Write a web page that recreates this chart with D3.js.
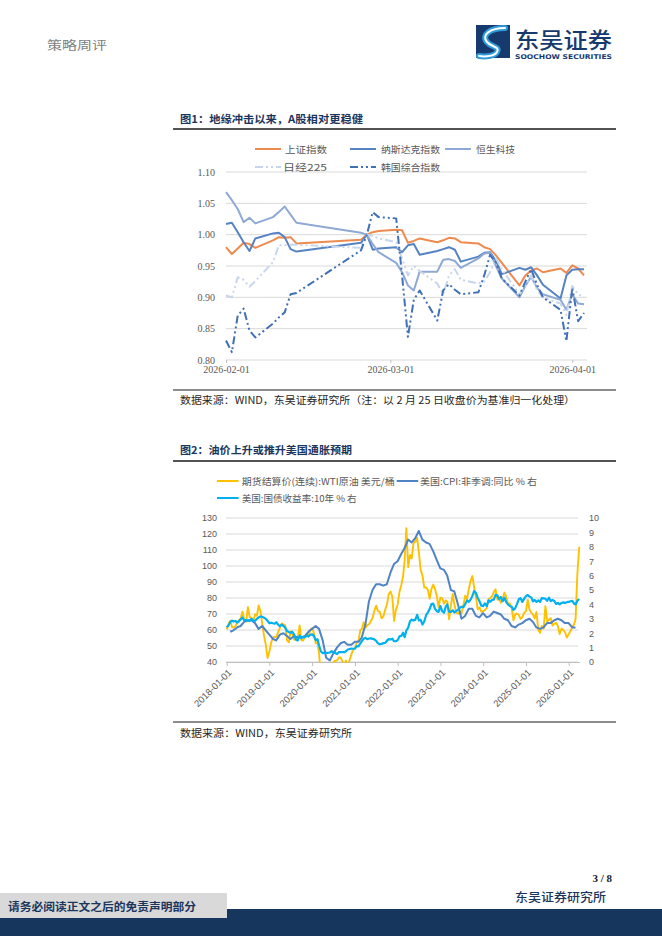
<!DOCTYPE html>
<html><head><meta charset="utf-8">
<script src="https://cdn.jsdelivr.net/npm/d3@7/dist/d3.min.js"></script>
<style>html,body{margin:0;padding:0;background:#fff}svg{display:block}</style>
</head><body>
<svg id="page" width="662" height="936"></svg>
<script>
// ================= DATA: Figure 1 (normalized to 2026-02-25 close) =================
const c1Dates = ["2026-02-01","2026-02-02","2026-02-03","2026-02-04","2026-02-05","2026-02-06",
  "2026-02-09","2026-02-10","2026-02-11","2026-02-12","2026-02-13","2026-02-24","2026-02-25",
  "2026-02-26","2026-02-27","2026-03-02","2026-03-03","2026-03-04","2026-03-05","2026-03-06",
  "2026-03-09","2026-03-10","2026-03-11","2026-03-12","2026-03-13","2026-03-16","2026-03-17",
  "2026-03-18","2026-03-19","2026-03-20","2026-03-23","2026-03-24","2026-03-25","2026-03-26",
  "2026-03-27","2026-03-30","2026-03-31","2026-04-01","2026-04-02","2026-04-03"];
const shanghai = [0.980,0.969,0.978,0.987,0.985,0.979,0.991,0.996,0.995,0.996,0.986,0.992,1.000,1.004,1.006,1.008,1.007,0.987,0.990,0.994,0.988,0.991,0.995,0.994,0.988,0.986,0.980,0.977,0.967,0.955,0.919,0.935,0.943,0.946,0.940,0.946,0.939,0.951,0.946,0.935];
const nasdaq   = [1.017,1.019,1.004,0.988,0.974,0.994,1.002,1.003,0.996,0.977,0.973,0.987,1.000,0.976,0.978,0.980,0.972,0.983,0.985,0.968,0.974,0.977,0.980,0.976,0.957,0.965,0.971,0.972,0.958,0.937,0.947,0.944,0.948,0.935,0.920,0.898,0.935,0.944,0.945,0.945];
const hstech   = [1.068,1.055,1.041,1.020,1.027,1.018,1.028,1.036,1.045,1.032,1.019,1.003,1.000,0.985,0.972,0.955,0.940,0.919,0.911,0.941,0.941,0.960,0.961,0.958,0.947,0.962,0.970,0.971,0.950,0.930,0.900,0.918,0.933,0.915,0.905,0.896,0.880,0.905,0.890,0.889];
const nikkei   = [0.903,0.900,0.932,0.928,0.917,0.926,0.956,0.983,0.983,0.984,0.984,0.979,1.000,0.998,0.994,0.988,0.962,0.935,0.950,0.942,0.922,0.905,0.935,0.945,0.928,0.922,0.925,0.940,0.962,0.945,0.905,0.918,0.935,0.912,0.900,0.890,0.872,0.918,0.905,0.900];
const kospi    = [0.831,0.8125,0.871,0.882,0.847,0.836,0.858,0.868,0.876,0.905,0.907,0.975,1.000,1.036,1.028,1.026,0.935,0.837,0.896,0.911,0.863,0.911,0.921,0.912,0.905,0.908,0.935,0.968,0.955,0.930,0.903,0.925,0.945,0.920,0.900,0.880,0.830,0.915,0.862,0.875];
const c1YTicks = [0.80,0.85,0.90,0.95,1.00,1.05,1.10];
const c1XTicks = ["2026-02-01","2026-03-01","2026-04-01"];
const c1Names = ["上证指数","纳斯达克指数","恒生科技","日经225","韩国综合指数"];

// ================= DATA: Figure 2 =================
// WTI continuous futures settlement (USD/bbl), sampled on the 1st and 16th of each month from 2018-01-01
const wti = [
 60.4,63.7,65.8,61.7,61.6,62.3,64.9,66.2,67.3,71.5,65.8,65.1,74.2,68.1,67.7,65.5,69.8,68.9,75.3,71.9,63.7,56.5,50.9,42.5,
 46.5,52.3,55.3,55.6,55.8,58.5,61.6,64.1,63.6,62.9,53.5,52.3,59.1,57.6,53.9,54.9,55.1,62.9,53.6,53.4,56.2,57.7,55.9,60.2,
 61.1,58.1,51.6,52.1,44.8,28.7,20.3,-37.6,19.8,29.4,35.4,38.4,39.8,40.8,41.0,42.9,42.8,40.2,38.7,40.9,35.8,41.3,44.6,47.8,
 48.5,52.4,53.6,60.1,60.6,64.8,61.5,63.1,63.6,65.5,67.7,72.2,75.2,71.8,71.3,67.3,68.6,72.6,75.9,82.3,84.1,80.8,65.6,72.4,
 76.1,83.8,88.2,93.7,103.4,123.7,99.3,106.9,104.7,114.2,115.3,117.6,108.4,97.6,93.9,86.5,86.6,85.1,79.5,85.6,88.4,85.6,81.2,74.3,
 80.3,79.9,76.4,78.5,77.7,66.7,75.7,82.5,75.7,70.9,70.1,71.8,70.6,75.4,81.4,79.4,85.6,90.8,93.7,86.7,80.4,72.9,74.1,71.4,
 71.7,72.4,73.8,79.2,80.0,81.0,83.7,85.4,79.0,79.2,77.0,79.8,83.4,80.8,76.3,76.7,73.6,66.0,69.8,70.4,69.3,67.0,68.0,70.7,
 71.7,79.0,72.5,70.7,69.8,67.2,71.2,60.0,58.2,62.5,60.8,74.9,65.5,66.4,67.3,62.8,64.0,64.5,62.4,57.5,60.9,59.9,58.6,55.3,
 57.4,59.4,62.0,63.5,67.0,95.0,112.0];
// US 10Y Treasury yield (%), same semi-monthly sampling
const ust10y = [
 2.41,2.54,2.78,2.87,2.81,2.85,2.74,2.83,2.97,3.09,2.89,2.92,2.87,2.85,3.00,2.87,2.86,3.00,3.09,3.16,3.14,3.08,2.99,2.86,
 2.69,2.73,2.69,2.66,2.76,2.59,2.49,2.59,2.50,2.39,2.13,2.09,2.03,2.10,1.89,1.55,1.50,1.84,1.65,1.75,1.73,1.83,1.78,1.89,
 1.92,1.81,1.51,1.58,1.13,0.73,0.62,0.63,0.64,0.64,0.66,0.75,0.68,0.62,0.55,0.68,0.68,0.69,0.68,0.75,0.87,0.90,0.93,0.92,
 0.93,1.10,1.09,1.30,1.45,1.62,1.68,1.58,1.63,1.64,1.61,1.57,1.47,1.30,1.23,1.26,1.31,1.33,1.48,1.59,1.56,1.62,1.44,1.44,
 1.52,1.78,1.81,2.03,1.72,2.19,2.39,2.83,2.94,2.88,2.94,3.28,2.88,2.93,2.60,2.81,3.26,3.45,3.67,4.02,4.05,3.69,3.53,3.48,
 3.88,3.53,3.42,3.86,4.00,3.49,3.48,3.59,3.44,3.54,3.64,3.76,3.84,3.81,4.02,4.28,4.18,4.33,4.59,4.93,4.79,4.45,4.22,3.91,
 3.88,4.07,3.88,4.28,4.18,4.31,4.33,4.66,4.63,4.37,4.51,4.22,4.47,4.16,3.98,3.89,3.84,3.62,3.74,4.02,4.37,4.43,4.17,4.40,
 4.57,4.65,4.54,4.47,4.21,4.31,4.17,4.28,4.17,4.43,4.42,4.39,4.25,4.46,4.23,4.32,4.23,4.03,4.11,4.00,4.10,4.14,4.09,4.16,
 4.17,4.22,4.24,4.05,4.00,4.25,4.38];
// US CPI YoY (%), monthly from 2018-01
const cpi = [
 2.1,2.2,2.4,2.5,2.8,2.9,2.9,2.7,2.3,2.5,2.2,1.9,
 1.6,1.5,1.9,2.0,1.8,1.6,1.8,1.7,1.7,1.8,2.1,2.3,
 2.5,2.3,1.5,0.3,0.1,0.6,1.0,1.3,1.4,1.2,1.2,1.4,
 1.4,1.7,2.6,4.2,5.0,5.4,5.4,5.3,5.4,6.2,6.8,7.0,
 7.5,7.9,8.5,8.3,8.6,9.1,8.5,8.3,8.2,7.7,7.1,6.5,
 6.4,6.0,5.0,4.9,4.0,3.0,3.2,3.7,3.7,3.2,3.1,3.4,
 3.1,3.2,3.5,3.4,3.3,3.0,2.9,2.5,2.4,2.6,2.7,2.9,
 3.0,2.8,2.4,2.3,2.4,2.7,2.7,2.9,3.0,2.9,2.7,2.7,
 2.4,2.4];
const c2LeftTicks = [40,50,60,70,80,90,100,110,120,130];
const c2RightTicks = [0,1,2,3,4,5,6,7,8,9,10];
const c2XTicks = ["2018-01-01","2019-01-01","2020-01-01","2021-01-01","2022-01-01","2023-01-01","2024-01-01","2025-01-01","2026-01-01"];
const c2Names = ["期货结算价(连续):WTI原油 美元/桶","美国:CPI:非季调:同比 % 右","美国:国债收益率:10年 % 右"];

// ================= RENDER =================
const svg = d3.select("#page");
const CJK = "'Noto Sans CJK SC','Noto Sans',sans-serif";
const SERIF = "'Liberation Serif','DejaVu Serif',serif";
const SANS = "'Liberation Sans','DejaVu Sans',sans-serif";
const NAVY = "#1B365D";
const GRID = "#D9D9D9";
const parse = d3.timeParse("%Y-%m-%d");

function txt(x, y, s, o = {}) {
  const t = svg.append("text").attr("x", x).attr("y", y).text(s)
    .attr("font-family", o.family || CJK).attr("font-size", o.size || 10)
    .attr("fill", o.fill || "#333").attr("font-weight", o.weight || 400);
  if (o.len) t.attr("textLength", o.len).attr("lengthAdjust", "spacingAndGlyphs");
  if (o.anchor) t.attr("text-anchor", o.anchor);
  return t;
}
function hline(x1, x2, y, color, w) {
  svg.append("line").attr("x1", x1).attr("x2", x2).attr("y1", y).attr("y2", y)
    .attr("stroke", color).attr("stroke-width", w);
}

// ---- header ----
txt(47, 50, "策略周评", {size: 12, fill: "#7F7F7F", len: 60});
const logo = svg.append("g");
logo.append("rect").attr("x", 476).attr("y", 25).attr("width", 34).attr("height", 33).attr("fill", "#173A6E");
logo.append("path").attr("d", "M505,28 C490,28 481,35 487,42 C492,48 500,46 497,52 C495,56 486,57 479,56")
  .attr("fill", "none").attr("stroke", "#2E9BD8").attr("stroke-width", 6).attr("stroke-linecap", "round");
logo.append("path").attr("d", "M505,28 C490,28 481,35 487,42 C492,48 500,46 497,52 C495,56 486,57 479,56")
  .attr("fill", "none").attr("stroke", "#fff").attr("stroke-width", 2).attr("stroke-linecap", "round");
txt(515, 47.5, "东吴证券", {size: 22, fill: "#173A6E", weight: 500, len: 97});
txt(515, 58.5, "SOOCHOW SECURITIES", {family: "'DejaVu Sans Condensed','DejaVu Sans',sans-serif", size: 6.5, fill: "#173A6E", weight: 700, len: 97});

// ---- Figure 1 ----
txt(180, 123, "图1：地缘冲击以来，A股相对更稳健", {size: 10.5, weight: 700, fill: NAVY, len: 183});
hline(173, 616, 129, "#1a1a1a", 1.3);

const x1 = d3.scaleTime().domain([parse("2026-02-01"), parse("2026-04-03")]).range([226, 584]);
const y1 = d3.scaleLinear().domain([0.80, 1.10]).range([360, 172]);
const g1 = svg.append("g");
g1.selectAll("line.grid").data(c1YTicks).join("line").attr("class", "grid")
  .attr("x1", 226).attr("x2", 587).attr("y1", d => y1(d)).attr("y2", d => y1(d))
  .attr("stroke", GRID).attr("stroke-width", 1);
const ay1 = g1.append("g").attr("transform", "translate(226,0)")
  .call(d3.axisLeft(y1).tickValues(c1YTicks).tickFormat(d3.format(".2f")).tickSize(0).tickPadding(11));
ay1.select(".domain").remove();
ay1.selectAll("text").attr("font-family", SERIF).attr("font-size", 10).attr("fill", "#595959");
const ax1 = g1.append("g").attr("transform", "translate(0,360)")
  .call(d3.axisBottom(x1).tickValues(c1XTicks.map(parse)).tickFormat(d3.timeFormat("%Y-%m-%d")).tickSize(3).tickPadding(3));
ax1.select(".domain").remove();
ax1.selectAll("line").attr("stroke", "#BFBFBF");
ax1.selectAll("text").attr("font-family", SERIF).attr("font-size", 10).attr("fill", "#595959");

const c1Series = [
  {name: c1Names[0], v: shanghai, color: "#EE8A4E", w: 2, dash: null},
  {name: c1Names[1], v: nasdaq, color: "#5683C3", w: 2, dash: null},
  {name: c1Names[2], v: hstech, color: "#8FA9D5", w: 2, dash: null},
  {name: c1Names[3], v: nikkei, color: "#C7D6EC", w: 2, dash: "8,3,2,3,2,3"},
  {name: c1Names[4], v: kospi, color: "#4070B6", w: 2, dash: "8,3,2,3,2,3"}
];
const c1d = c1Dates.map(parse);
const line1 = d3.line().x((d, i) => x1(c1d[i])).y(d => y1(d));
c1Series.forEach(s => {
  g1.append("path").attr("d", line1(s.v)).attr("fill", "none").attr("stroke", s.color)
    .attr("stroke-width", s.w).attr("stroke-linejoin", "round").attr("stroke-dasharray", s.dash);
});
// legend 1
const leg1 = [
  {x: 255, y: 149, tx: 285, len: 42}, {x: 350, y: 149, tx: 381, len: 59}, {x: 445, y: 149, tx: 476, len: 39},
  {x: 255, y: 167, tx: 283, len: 44}, {x: 350, y: 167, tx: 381, len: 59}
];
c1Series.forEach((s, i) => {
  const L = leg1[i];
  svg.append("line").attr("x1", L.x).attr("x2", L.x + 26).attr("y1", L.y).attr("y2", L.y)
    .attr("stroke", s.color).attr("stroke-width", 2).attr("stroke-dasharray", s.dash);
  txt(L.tx, L.y + 3.5, s.name, {size: 9.5, fill: "#595959", len: L.len});
});
hline(173, 616, 390, "#1a1a1a", 1);
txt(180, 404, "数据来源：WIND，东吴证券研究所（注：以 2 月 25 日收盘价为基准归一化处理）", {size: 10, fill: "#262626", len: 395});

// ---- Figure 2 ----
txt(180, 454, "图2：油价上升或推升美国通胀预期", {size: 10.5, weight: 700, fill: NAVY, len: 172});
hline(173, 616, 461, "#1a1a1a", 1.3);

const x2 = d3.scaleTime().domain([parse("2018-01-01"), parse("2026-01-01")]).range([226.7, 568.7]);
const yL = d3.scaleLinear().domain([40, 130]).range([662, 518]);
const yR = d3.scaleLinear().domain([0, 10]).range([662, 518]);
const g2 = svg.append("g");
g2.selectAll("line.grid").data(c2LeftTicks).join("line").attr("class", "grid")
  .attr("x1", 226).attr("x2", 578).attr("y1", d => yL(d)).attr("y2", d => yL(d))
  .attr("stroke", GRID).attr("stroke-width", 1);
const ayL = g2.append("g").attr("transform", "translate(226,0)")
  .call(d3.axisLeft(yL).tickValues(c2LeftTicks).tickSize(0).tickPadding(9));
ayL.select(".domain").remove();
ayL.selectAll("text").attr("font-family", SANS).attr("font-size", 9).attr("fill", "#595959");
const ayR = g2.append("g").attr("transform", "translate(578,0)")
  .call(d3.axisRight(yR).tickValues(c2RightTicks).tickSize(0).tickPadding(11));
ayR.select(".domain").remove();
ayR.selectAll("text").attr("font-family", SANS).attr("font-size", 9).attr("fill", "#595959");
const ax2 = g2.append("g").attr("transform", "translate(0,662)")
  .call(d3.axisBottom(x2).tickValues(c2XTicks.map(parse)).tickFormat(d3.timeFormat("%Y-%m-%d")).tickSize(4));
ax2.select(".domain").attr("stroke", "#BFBFBF").attr("d", "M226,0.5H580");
ax2.selectAll("line").attr("stroke", "#BFBFBF");
ax2.selectAll("text").attr("font-family", SANS).attr("font-size", 9.5).attr("fill", "#595959")
  .attr("x", 0).attr("y", 0).attr("dy", "0.32em").attr("text-anchor", "end")
  .attr("transform", "translate(3,9) rotate(-45)");

svg.append("clipPath").attr("id", "clip2").append("rect")
  .attr("x", 222).attr("y", 516).attr("width", 362).attr("height", 146.5);
const semiDate = i => new Date(2018 + Math.floor(i / 24), Math.floor((i % 24) / 2), i % 2 ? 16 : 1);
const monthEnd = i => new Date(2018, i + 1, 0);
const plot2 = g2.append("g").attr("clip-path", "url(#clip2)");
const c2Series = [
  {name: c2Names[0], d: wti.map((v, i) => [semiDate(i), v]), y: yL, color: "#FFC000", w: 1.9},
  {name: c2Names[1], d: cpi.map((v, i) => [monthEnd(i), v]), y: yR, color: "#5083C4", w: 2},
  {name: c2Names[2], d: ust10y.map((v, i) => [semiDate(i), v]), y: yR, color: "#00B0F0", w: 2.2}
];
c2Series.forEach(s => {
  const ln = d3.line().x(d => x2(d[0])).y(d => s.y(d[1]));
  plot2.append("path").attr("d", ln(s.d)).attr("fill", "none").attr("stroke", s.color)
    .attr("stroke-width", s.w).attr("stroke-linejoin", "round");
});
const leg2 = [
  {x: 217, y: 481, tx: 241.7, len: 153}, {x: 396.7, y: 481, tx: 420, len: 117}, {x: 217, y: 498, tx: 241.7, len: 115}
];
c2Series.forEach((s, i) => {
  const L = leg2[i];
  svg.append("line").attr("x1", L.x).attr("x2", L.x + 21.5).attr("y1", L.y).attr("y2", L.y)
    .attr("stroke", s.color).attr("stroke-width", 2);
  txt(L.tx, L.y + 3.5, s.name, {size: 9.5, fill: "#595959", len: L.len});
});
hline(173, 616, 722, "#1a1a1a", 1);
txt(180, 737, "数据来源：WIND，东吴证券研究所", {size: 10, fill: "#262626", len: 172});

// ---- footer ----
txt(612, 882, "3 / 8", {family: SERIF, size: 11, weight: 700, fill: "#1a1a1a", anchor: "end"});
txt(515, 902, "东吴证券研究所", {size: 12, weight: 500, fill: NAVY, len: 91});
svg.append("rect").attr("x", 0).attr("y", 909).attr("width", 662).attr("height", 27).attr("fill", "#17365D");
svg.append("rect").attr("x", 0).attr("y", 893).attr("width", 227).attr("height", 25).attr("fill", "#D9D9D9");
txt(8, 911, "请务必阅读正文之后的免责声明部分", {size: 11, weight: 700, fill: NAVY, len: 188});
</script>
</body></html>
